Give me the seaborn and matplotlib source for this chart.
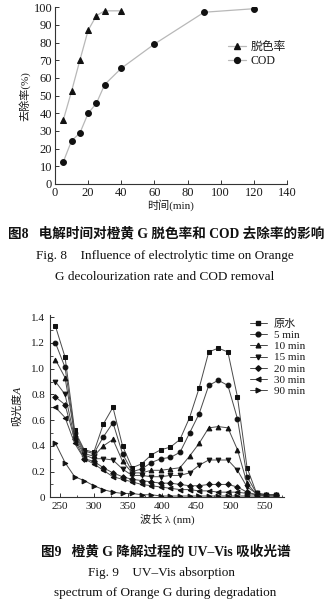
import numpy as np
import pandas as pd
import matplotlib
matplotlib.use("Agg")
import matplotlib.pyplot as plt
import seaborn as sns
from matplotlib.lines import Line2D
from matplotlib.ticker import MultipleLocator, FuncFormatter

sns.set_theme(style="ticks")
plt.rcParams["font.family"] = ["Liberation Serif", "Noto Sans CJK SC", "DejaVu Sans"]
plt.rcParams["axes.unicode_minus"] = False

# ---- Fig. 8: removal vs. electrolysis time ----
time_decolor = [5, 10, 15, 20, 25, 30, 40]
decolor_rate = [36.2, 52.5, 70.0, 87.0, 95.3, 98.0, 98.0]
time_cod = [5, 10, 15, 20, 25, 30, 40, 60, 90, 120]
cod_removal = [12.5, 24.5, 28.8, 40.0, 45.7, 56.3, 65.5, 79.2, 97.2, 99.2]

# ---- Fig. 9: UV-Vis spectra during degradation ----
wavelength = [244, 258, 272, 286, 300, 314, 328, 342, 356, 370, 384, 398,
              412, 426, 440, 454, 468, 482, 496, 510, 524, 538, 552, 566]
abs_raw = [1.33, 1.09, 0.52, 0.37, 0.35, 0.57, 0.70, 0.40, 0.23, 0.26, 0.33, 0.37,
           0.39, 0.45, 0.62, 0.85, 1.13, 1.16, 1.13, 0.78, 0.23, 0.03, 0.02, 0.02]
abs_5 = [1.20, 1.01, 0.50, 0.36, 0.34, 0.47, 0.58, 0.34, 0.20, 0.22, 0.27, 0.30,
         0.31, 0.35, 0.50, 0.65, 0.87, 0.91, 0.87, 0.61, 0.16, 0.03, 0.02, 0.02]
abs_10 = [1.07, 0.93, 0.49, 0.34, 0.32, 0.40, 0.45, 0.28, 0.19, 0.19, 0.21, 0.21,
          0.22, 0.23, 0.32, 0.42, 0.54, 0.55, 0.54, 0.37, 0.11, 0.02, 0.02, 0.02]
abs_15 = [0.90, 0.80, 0.46, 0.33, 0.30, 0.30, 0.29, 0.22, 0.17, 0.17, 0.16, 0.16,
          0.17, 0.17, 0.19, 0.25, 0.29, 0.29, 0.29, 0.21, 0.08, 0.03, 0.02, 0.02]
abs_20 = [0.78, 0.72, 0.45, 0.30, 0.28, 0.23, 0.19, 0.16, 0.14, 0.13, 0.12, 0.11,
          0.11, 0.10, 0.09, 0.09, 0.10, 0.10, 0.10, 0.08, 0.04, 0.02, 0.02, 0.02]
abs_30 = [0.70, 0.62, 0.42, 0.30, 0.26, 0.21, 0.16, 0.14, 0.12, 0.10, 0.09, 0.08,
          0.07, 0.06, 0.06, 0.05, 0.05, 0.04, 0.04, 0.04, 0.03, 0.02, 0.01, 0.01]
abs_90 = [0.42, 0.27, 0.16, 0.13, 0.09, 0.06, 0.04, 0.03, 0.03, 0.02, 0.02, 0.01,
          0.01, 0.01, 0.01, 0.01, 0.01, 0.01, 0.01, 0.01, 0.01, 0.01, 0.01, 0.01]
series_labels = ["原水", "5 min", "10 min", "15 min", "20 min", "30 min", "90 min"]
series_values = [abs_raw, abs_5, abs_10, abs_15, abs_20, abs_30, abs_90]
series_markers = ["s", "o", "^", "v", "D", "<", ">"]

W, H = 330, 607
fig = plt.figure(figsize=(W / 100, H / 100), dpi=100)
fig.patch.set_facecolor("white")


def px_rect(left, top, right, bottom):
    return [left / W, 1 - bottom / H, (right - left) / W, (bottom - top) / H]


TXT = "#1a1a1a"

# ---------------- Fig. 8 ----------------
ax1 = fig.add_axes(px_rect(55, 7.3, 287, 184))
df8a = pd.DataFrame({"t": time_decolor, "r": decolor_rate})
df8b = pd.DataFrame({"t": time_cod, "r": cod_removal})
line_kw = dict(color="#b8b8b8", lw=0.9, mfc="#111111", mec="#111111", ms=4.2, ax=ax1)
sns.lineplot(data=df8a, x="t", y="r", marker="^", **line_kw)
sns.lineplot(data=df8b, x="t", y="r", marker="o", **line_kw)
ax1.set_xlim(0, 140)
ax1.set_ylim(0, 100)
ax1.xaxis.set_major_locator(MultipleLocator(20))
ax1.yaxis.set_major_locator(MultipleLocator(10))
for s in ["top", "right"]:
    ax1.spines[s].set_visible(False)
for s in ["left", "bottom"]:
    ax1.spines[s].set_color("#333333")
    ax1.spines[s].set_linewidth(0.8)
ax1.tick_params(direction="in", length=3, width=0.7, colors="#333333",
                labelcolor=TXT, labelsize=9, pad=2)
ax1.set_xlabel("时间(min)", fontsize=8, color=TXT, labelpad=0)
ax1.set_ylabel("去除率(%)", fontsize=8, color=TXT, labelpad=2)
h8 = [Line2D([], [], color="#b8b8b8", lw=0.9, marker=m, mfc="#111111", mec="#111111", ms=4.2)
      for m in ["^", "o"]]
ax1.legend(h8, ["脱色率", "COD"], loc="upper left",
           bbox_to_anchor=(222 / W, 1 - 35 / H), bbox_transform=fig.transFigure,
           frameon=False, fontsize=8.5, handlelength=1.5, handletextpad=0.4,
           labelspacing=0.15, borderpad=0, labelcolor=TXT)

# ---------------- Fig. 9 ----------------
ax2 = fig.add_axes(px_rect(50, 314.7, 284, 497.3))
handles9 = []
for lab, vals, mk in zip(series_labels, series_values, series_markers):
    d = pd.DataFrame({"wl": wavelength, "A": vals})
    msz = 2.8 if mk == "D" else 3.4
    sns.lineplot(data=d, x="wl", y="A", marker=mk, color="#4a4a4a", lw=0.7,
                 mfc="#111111", mec="#111111", ms=msz, ax=ax2)
    handles9.append(Line2D([], [], color="#4a4a4a", lw=0.7, marker=mk,
                           mfc="#111111", mec="#111111", ms=msz))
ax2.set_xlim(236, 578)
ax2.set_ylim(0, 1.42)
ax2.xaxis.set_major_locator(MultipleLocator(50))
ax2.xaxis.set_minor_locator(MultipleLocator(25))
ax2.yaxis.set_major_locator(MultipleLocator(0.2))
ax2.yaxis.set_minor_locator(MultipleLocator(0.1))
ax2.yaxis.set_major_formatter(FuncFormatter(lambda v, p: "0" if abs(v) < 1e-9 else f"{v:.1f}"))
for s in ["top", "right"]:
    ax2.spines[s].set_visible(False)
for s in ["left", "bottom"]:
    ax2.spines[s].set_color("#333333")
    ax2.spines[s].set_linewidth(0.8)
ax2.tick_params(which="major", direction="in", length=3, width=0.7, colors="#333333",
                labelcolor=TXT, labelsize=8, pad=3.5)
ax2.tick_params(which="minor", direction="in", length=1.8, width=0.6, colors="#333333")
ax2.set_xlabel("波长 λ (nm)", fontsize=8, color=TXT, labelpad=2)
# italic style only affects the Latin "A"; the CJK family has just an upright face
ax2.set_ylabel("吸光度A", fontsize=8, color=TXT, labelpad=7, fontstyle="italic")
ax2.legend(handles9, series_labels, loc="upper left",
           bbox_to_anchor=(244 / W, 1 - 313.5 / H), bbox_transform=fig.transFigure,
           frameon=False, fontsize=8, handlelength=1.6, handletextpad=0.6,
           labelspacing=0.12, borderpad=0, labelcolor=TXT)

# ---------------- captions ----------------
fig.text(166 / W, 1 - 234 / H, "图8   电解时间对橙黄 G 脱色率和 COD 去除率的影响",
         ha="center", va="center", fontsize=9.8, color="#111111", fontweight="bold")
fig.text(165 / W, 1 - 256 / H, "Fig. 8    Influence of electrolytic time on Orange",
         ha="center", va="center", fontsize=9.5, color="#111111")
fig.text(165 / W, 1 - 276.5 / H, "G decolourization rate and COD removal",
         ha="center", va="center", fontsize=9.5, color="#111111")
fig.text(165.5 / W, 1 - 552 / H, "图9   橙黄 G 降解过程的 UV–Vis 吸收光谱",
         ha="center", va="center", fontsize=9.8, color="#111111", fontweight="bold")
fig.text(162 / W, 1 - 573 / H, "Fig. 9    UV–Vis absorption",
         ha="center", va="center", fontsize=9.5, color="#111111")
fig.text(165 / W, 1 - 593 / H, "spectrum of Orange G during degradation",
         ha="center", va="center", fontsize=9.5, color="#111111")

fig.savefig("out.png", dpi=100, facecolor="white")
